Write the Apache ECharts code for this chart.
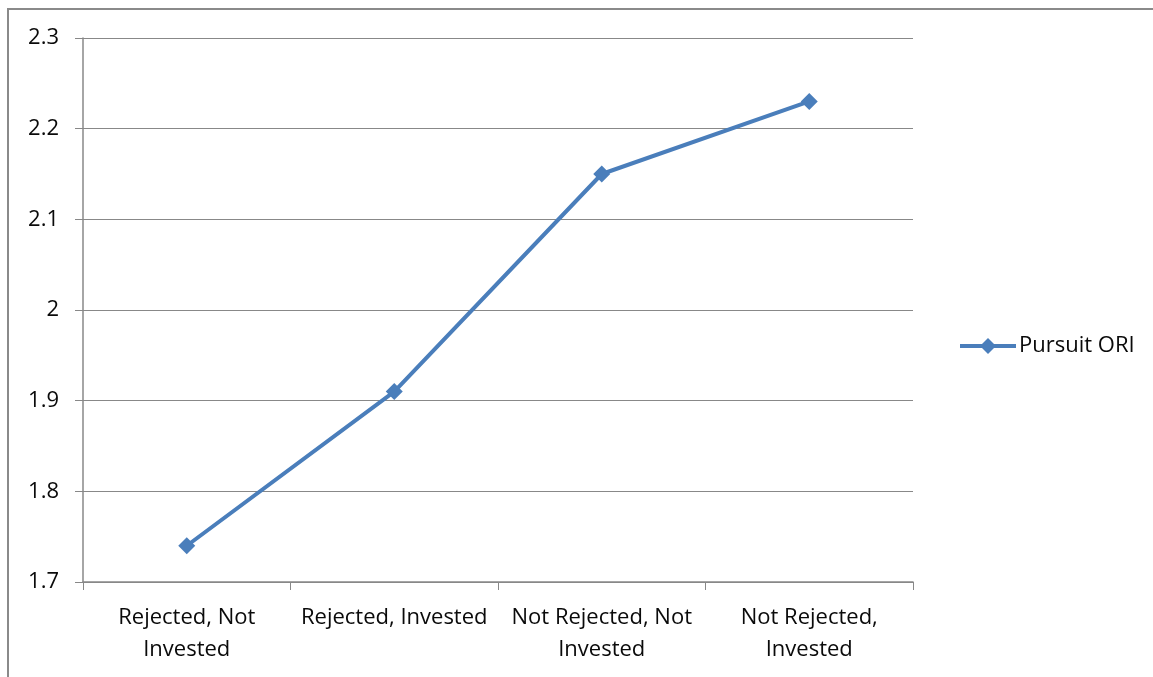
<!DOCTYPE html>
<html>
<head>
<meta charset="utf-8">
<script src="https://cdn.jsdelivr.net/npm/echarts@6/dist/echarts.min.js"></script>
<style>
  html, body { margin: 0; padding: 0; background: #fff; }
  #frame {
    position: absolute; left: 7px; top: 8px; width: 1200px; height: 720px;
    border-top: 2px solid #8a8a8a; border-left: 2px solid #8a8a8a;
  }
  #chart { position: absolute; left: 0; top: 0; width: 1153px; height: 677px; }
</style>
</head>
<body>
<div id="frame"></div>
<div id="chart"></div>
<script>
// Chart data
const categories = ['Rejected, Not\nInvested', 'Rejected, Invested', 'Not Rejected, Not\nInvested', 'Not Rejected,\nInvested'];
const pursuitORI = [1.74, 1.91, 2.15, 2.23];
const seriesName = 'Pursuit ORI';

const chart = echarts.init(document.getElementById('chart'));
const fontFamily = 'Open Sans, sans-serif';
const lineColor = '#4a7ebb';

chart.setOption({
    animation: false,
    grid: { left: 83, right: 240, top: 38, bottom: 95, containLabel: false },
    legend: {
        data: [seriesName],
        orient: 'vertical',
        left: 953,
        top: 330,
        itemWidth: 56,
        itemHeight: 20,
        itemGap: 4,
        lineStyle: { width: 4 },
        textStyle: { fontFamily, fontSize: 22, color: '#0a0a0a', padding: [0, 0, 0, -2] }
    },
    xAxis: {
        type: 'category',
        data: categories,
        boundaryGap: true,
        axisLine: { lineStyle: { color: '#888', width: 1.5 } },
        axisTick: { show: true, length: 8, lineStyle: { color: '#888' } },
        axisLabel: { fontFamily, fontSize: 22, color: '#0a0a0a', margin: 20, lineHeight: 32, interval: 0 }
    },
    yAxis: {
        type: 'value',
        min: 1.7,
        max: 2.3,
        interval: 0.1,
        axisLine: { show: true, lineStyle: { color: '#888', width: 1.5 } },
        axisTick: { show: true, length: 8, lineStyle: { color: '#888' } },
        axisLabel: {
            fontFamily, fontSize: 22, color: '#0a0a0a', margin: 24,
            formatter: v => String(Math.round(v * 10) / 10)
        },
        splitLine: { lineStyle: { color: '#888', width: 1 } }
    },
    series: [{
        name: seriesName,
        type: 'line',
        data: pursuitORI,
        symbol: 'diamond',
        symbolSize: 17,
        itemStyle: { color: lineColor },
        lineStyle: { color: lineColor, width: 4 }
    }]
});
</script>
</body>
</html>
